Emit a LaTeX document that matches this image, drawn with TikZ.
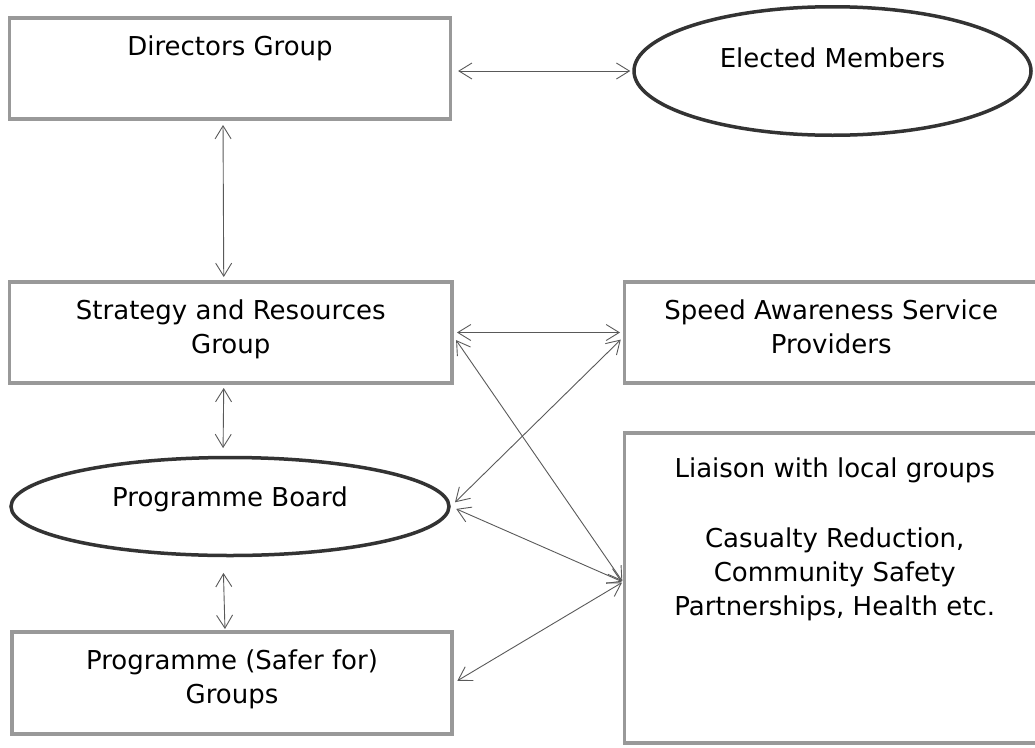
\documentclass[tikz,border=0pt]{standalone}
\usepackage{fontspec}
\setmainfont{DejaVu Sans}
\usepackage{tikz}
\usetikzlibrary{shapes.geometric, arrows.meta, positioning}
\tikzstyle{arrow} = [draw=black!65, line width=0.9pt, {Straight Barb[length=13pt,width=16pt]}-{Straight Barb[length=13pt,width=16pt]}]
\tikzstyle{block} = [rectangle, draw=black!40, line width=3.2pt, inner sep=0pt]
\tikzstyle{oval} = [ellipse, draw=black!80, line width=3.5pt, inner sep=0pt]
\tikzset{every node/.style={font=\fontsize{26}{34}\selectfont}}
% text sits at the top of the box
\newcommand{\toptext}[2]{\vbox to #1{\hbox{\begin{tabular}{@{}c@{}}#2\end{tabular}}\vfil}}

\begin{document}
\begin{tikzpicture}[x=1pt, y=-1pt]
    \useasboundingbox (0,0) rectangle (1035,747);
    \node (dirs) [block, minimum width=441pt, minimum height=101pt] at (230,68.5) {\toptext{74.6pt}{Directors Group}};
    \node (elected) [oval, minimum width=397pt, minimum height=128.5pt] at (832.5,71) {\toptext{55.6pt}{Elected Members}};
    \node (strat) [block, minimum width=442.5pt, minimum height=101pt] at (230.75,332.5) {\toptext{74.6pt}{Strategy and Resources\\Group}};
    \node (speed) [block, minimum width=413.5pt, minimum height=101pt] at (831.25,332.5) {\toptext{74.6pt}{Speed Awareness Service\\Providers}};
    \node (board) [oval, minimum width=438pt, minimum height=98pt] at (230,506.5) {\toptext{48.6pt}{Programme Board}};
    \node (liaison) [block, minimum width=420.5pt, minimum height=310pt] at (834.75,588) {\toptext{269.6pt}{Liaison with local groups\\ \\[2pt]Casualty Reduction,\\Community Safety\\Partnerships, Health etc.}};
    \node (groups) [block, minimum width=440pt, minimum height=102pt] at (232,683) {\toptext{75.6pt}{Programme (Safer for)\\Groups}};

    \draw [arrow, shorten <=6pt, shorten >=2pt] (dirs.east |- elected.west) -- (elected.west);
    \draw [arrow, shorten <=4.4pt, shorten >=3.4pt] ([xshift=-7pt]dirs.south) -- ([xshift=-7pt]strat.north);
    \draw [arrow, shorten <=3.4pt, shorten >=7.7pt] ([xshift=-7pt]strat.south) -- ([xshift=-7pt]board.north);
    \draw [arrow, shorten <=15.7pt, shorten >=1.4pt] ([xshift=-7pt]board.south) -- ([xshift=-7pt]groups.north);
    \draw [arrow, shorten <=3.4pt, shorten >=2.9pt] (strat.east) -- (speed.west);
    \draw [arrow, shorten <=4.4pt, shorten >=1pt] ([yshift=-4pt]strat.east) -- ([yshift=6pt]liaison.west);
    \draw [arrow, shorten <=6pt, shorten >=3pt] (board.east) -- ([yshift=-5pt]speed.west);
    \draw [arrow, shorten <=6pt, shorten >=1pt] (board.east) -- ([yshift=6pt]liaison.west);
    \draw [arrow, shorten <=4.4pt, shorten >=1pt] (groups.east) -- ([yshift=6pt]liaison.west);
\end{tikzpicture}
\end{document}
